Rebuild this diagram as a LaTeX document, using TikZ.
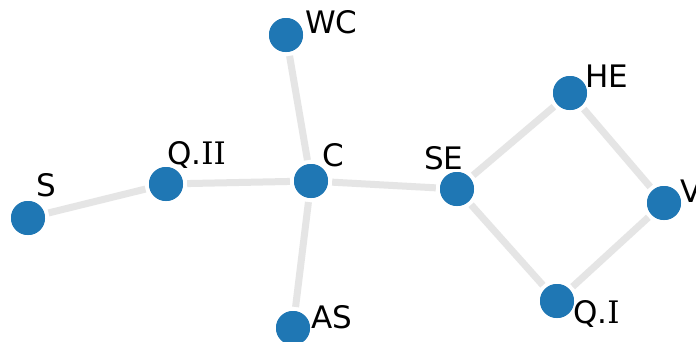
\documentclass[tikz,border=0pt]{standalone}
\usepackage{fontspec}
\setmainfont{DejaVu Sans}
\newfontfamily\romfont{DejaVu Serif}
\definecolor{nodeblue}{HTML}{1F77B4}
\definecolor{edgegray}{HTML}{E5E5E5}
\begin{document}
\begin{tikzpicture}[x=1pt,y=-1pt,
  vert/.style={circle,fill=nodeblue,draw=none,minimum size=34pt,inner sep=0pt},
  lab/.style={anchor=base west,inner sep=0pt,font=\fontsize{31}{37}\selectfont},
  link/.style={draw=edgegray,line width=7pt,shorten >=4pt,shorten <=4pt}]
\useasboundingbox[fill=white] (0,0) rectangle (696,341);
\node[vert] (WC) at (286,35) {};
\node[vert] (C) at (311,181) {};
\node[vert] (S) at (28,218) {};
\node[vert] (QII) at (166,184) {};
\node[vert] (AS) at (293,328) {};
\node[vert] (SE) at (457,189) {};
\node[vert] (HE) at (570,93) {};
\node[vert] (V) at (664,203) {};
\node[vert] (QI) at (557,301) {};
\path[link] (S) -- (QII);
\path[link] (QII) -- (C);
\path[link] (C) -- (WC);
\path[link] (C) -- (AS);
\path[link] (C) -- (SE);
\path[link] (SE) -- (HE);
\path[link] (HE) -- (V);
\path[link] (V) -- (QI);
\path[link] (QI) -- (SE);
\node[vert] at (WC) {};
\node[vert] at (C) {};
\node[vert] at (S) {};
\node[vert] at (QII) {};
\node[vert] at (AS) {};
\node[vert] at (SE) {};
\node[vert] at (HE) {};
\node[vert] at (V) {};
\node[vert] at (QI) {};
\node[lab] (lWC) at (305,33) {WC};
\node[lab] (lC) at (322,166) {C};
\node[lab] (lS) at (36,196) {S};
\node[lab] (lQII) at (167,164) {Q.{\romfont II}};
\node[lab] (lAS) at (311,328) {AS};
\node[lab] (lSE) at (424,169) {SE};
\node[lab] (lHE) at (585,87) {HE};
\node[lab] (lV) at (680,202) {V};
\node[lab] (lQI) at (573,323) {Q.{\romfont I}};
\end{tikzpicture}
\end{document}
